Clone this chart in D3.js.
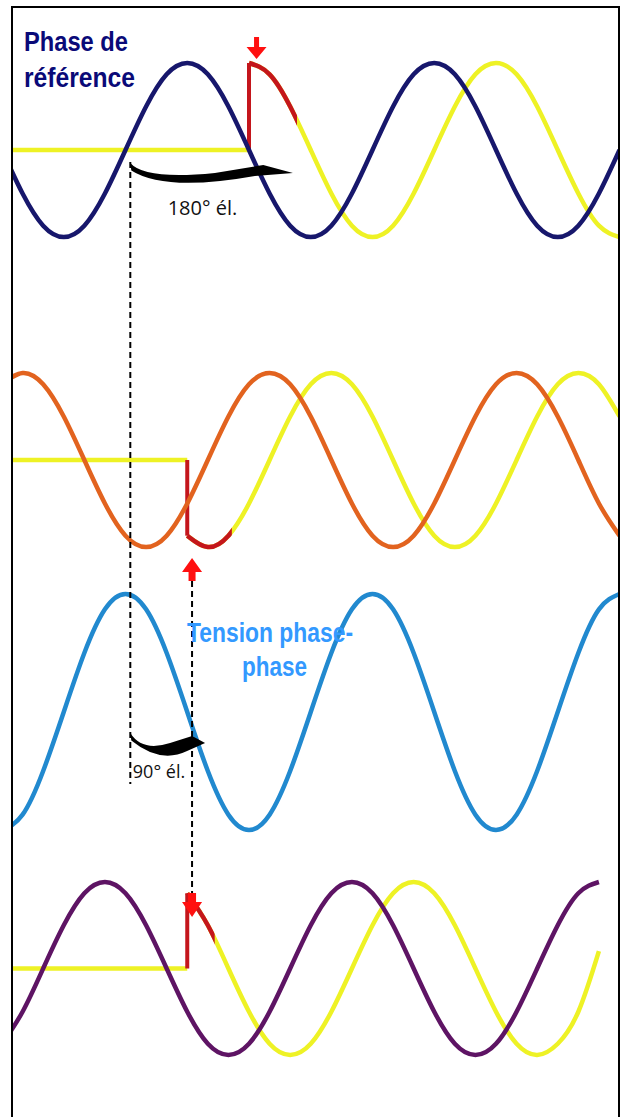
<!DOCTYPE html>
<html>
<head>
<meta charset="utf-8">
<script src="https://cdn.jsdelivr.net/npm/d3@7"></script>
<style>
  html, body { margin: 0; padding: 0; background: #fff; }
  svg { display: block; }
</style>
</head>
<body>
<svg id="chart" width="623" height="1117"></svg>
<script>
// Electrical angle (degrees) of each sample, 30° apart
const angleStep = 30;

// Reference phase voltage, sampled from -180° to 720°
const refPhase = [0,-0.5,-0.87,-1,-0.87,-0.5,0,0.5,0.87,1,0.87,0.5,0,-0.5,-0.87,-1,-0.87,-0.5,0,0.5,0.87,1,0.87,0.5,0,-0.5,-0.87,-1,-0.87,-0.5,0];
// Voltage applied after switching at 180°, sampled from 180° to 720°
const refSwitched = [1,0.87,0.5,0,-0.5,-0.87,-1,-0.87,-0.5,0,0.5,0.87,1,0.87,0.5,0,-0.5,-0.87,-1];

// Second phase, sampled from -180° to 720°
const phase2 = [0.87,1,0.87,0.5,0,-0.5,-0.87,-1,-0.87,-0.5,0,0.5,0.87,1,0.87,0.5,0,-0.5,-0.87,-1,-0.87,-0.5,0,0.5,0.87,1,0.87,0.5,0,-0.5,-0.87];
// Voltage applied after switching at 90°, sampled from 90° to 720°
const phase2Switched = [-0.87,-1,-0.87,-0.5,0,0.5,0.87,1,0.87,0.5,0,-0.5,-0.87,-1,-0.87,-0.5,0,0.5,0.87,1,0.87,0.5];

// Phase-to-phase voltage, sampled from -180° to 720°
const lineVoltage = [-1,-0.87,-0.5,0,0.5,0.87,1,0.87,0.5,0,-0.5,-0.87,-1,-0.87,-0.5,0,0.5,0.87,1,0.87,0.5,0,-0.5,-0.87,-1,-0.87,-0.5,0,0.5,0.87,1];

// Third phase, sampled from -180° to 690°
const phase3 = [-0.87,-0.5,0,0.5,0.87,1,0.87,0.5,0,-0.5,-0.87,-1,-0.87,-0.5,0,0.5,0.87,1,0.87,0.5,0,-0.5,-0.87,-1,-0.87,-0.5,0,0.5,0.87,1];
// Voltage applied after switching at 90°, sampled from 90° to 690°
const phase3Switched = [0.87,0.5,0,-0.5,-0.87,-1,-0.87,-0.5,0,0.5,0.87,1,0.87,0.5,0,-0.5,-0.87,-1,-0.87,-0.5,0.2];

// Switching angles and the end of the transient (red) part
const switchAngles = [180, 90, null, 90];
const transientEnd = [250, 155, null, 130];

// Angles marked by the dashed guides and the phase-shift arrows
const guideAngles = [7, 97];
const shiftArrowTips = [244, 116];
const shiftLabels = ["180° él.", "90° él."];

// ---------------------------------------------------------------
const W = 623, H = 1117;
const svg = d3.select("#chart");

const frame = { left: 12, top: 7, right: 619 };

// angle -> horizontal position
const x = d3.scaleLinear().domain([0, 360]).range([125.5, 372.5]);

const YELLOW = "#eef225";
const RED = "#c4161c";
const ARROW_RED = "#ff1010";

const panels = [
  { center: 150, half: 87, main: refPhase, mainStart: -180, color: "#17176c",
    switched: refSwitched },
  { center: 460, half: 87, main: phase2, mainStart: -180, color: "#e2631f",
    switched: phase2Switched },
  { center: 712, half: 118, main: lineVoltage, mainStart: -180, color: "#2189cf",
    switched: null },
  { center: 968.5, half: 86.5, main: phase3, mainStart: -180, color: "#5e1464",
    switched: phase3Switched }
];

const toPoints = (values, start) => values.map((v, i) => [start + i * angleStep, v]);

const defs = svg.append("defs");
defs.append("clipPath").attr("id", "plotClip")
  .append("rect").attr("x", frame.left + 1).attr("y", 0)
  .attr("width", frame.right - frame.left - 2).attr("height", H);

const plot = svg.append("g").attr("clip-path", "url(#plotClip)");

panels.forEach((p, i) => {
  const y = d3.scaleLinear().domain([-1, 1]).range([p.center + p.half, p.center - p.half]);
  const line = d3.line().x(d => x(d[0])).y(d => y(d[1])).curve(d3.curveNatural);
  const g = plot.append("g");

  const sw = switchAngles[i];
  if (p.switched) {
    const pts = toPoints(p.switched, sw);
    // idle level before switching
    g.append("line")
      .attr("x1", frame.left).attr("x2", x(sw))
      .attr("y1", y(0)).attr("y2", y(0))
      .attr("stroke", YELLOW).attr("stroke-width", 4.5);
    // applied voltage after switching
    g.append("path").datum(pts)
      .attr("d", line).attr("fill", "none")
      .attr("stroke", YELLOW).attr("stroke-width", 4.5);

    // transient part in red
    const cid = "red" + i;
    defs.append("clipPath").attr("id", cid)
      .append("rect").attr("x", x(sw) - 3).attr("y", 0)
      .attr("width", x(transientEnd[i]) - x(sw) + 3).attr("height", H);
    g.append("path").datum(pts)
      .attr("d", line).attr("fill", "none")
      .attr("clip-path", `url(#${cid})`)
      .attr("stroke", RED).attr("stroke-width", 4.5);
    g.append("line")
      .attr("x1", x(sw)).attr("x2", x(sw))
      .attr("y1", y(0)).attr("y2", y(pts[0][1]))
      .attr("stroke", RED).attr("stroke-width", 4);
  }

  g.append("path").datum(toPoints(p.main, p.mainStart))
    .attr("d", line).attr("fill", "none")
    .attr("stroke", p.color).attr("stroke-width", 4.5)
    .attr("stroke-linejoin", "round");
});

// frame
svg.append("path")
  .attr("d", `M${frame.left},${H} V${frame.top} H${frame.right} V${H}`)
  .attr("fill", "none").attr("stroke", "#000").attr("stroke-width", 2);

// dashed guides
const guides = [
  { a: guideAngles[0], y1: 162, y2: 784 },
  { a: guideAngles[1], y1: 581, y2: 894 }
];
svg.selectAll(".guide").data(guides).join("line")
  .attr("class", "guide")
  .attr("x1", d => x(d.a)).attr("x2", d => x(d.a))
  .attr("y1", d => d.y1).attr("y2", d => d.y2)
  .attr("stroke", "#000").attr("stroke-width", 2)
  .attr("stroke-dasharray", "6,4");

// curved phase-shift arrows: a bent band ending in a long arrowhead
function bentArrow(x0, tip, y0, o) {
  const w = tip - x0;
  return `M${x0},${y0}` +
    ` Q${x0 + o.cu * w},${y0 + o.du} ${tip - o.head},${y0 + 10}` +
    ` L${tip - o.head * o.ht},${y0 + o.hy}` +
    ` L${tip},${y0 + 10}` +
    ` L${tip - o.hbx},${y0 + o.hb}` +
    ` Q${x0 + o.cl * w},${y0 + o.dl} ${x0 + 1},${y0 + 7.5} Z`;
}
const bends = [
  { y0: 163, head: 78, ht: 0.38, hy: 2, cu: 0.09, du: 17, cl: 0.215, dl: 29, hbx: 38, hb: 13 },
  { y0: 733, head: 35, ht: 0.37, hy: 3, cu: 0.16, du: 19, cl: 0.4, dl: 31, hbx: 18, hb: 18 }
];
bends.forEach((b, i) => {
  svg.append("path")
    .attr("d", bentArrow(x(guideAngles[0]), x(shiftArrowTips[i]), b.y0, b))
    .attr("fill", "#000");
});

// shift labels
const labelPos = [
  { x: 202.5, y: 215, size: 20 },
  { x: 159, y: 778, size: 18 }
];
labelPos.forEach((l, i) => {
  svg.append("text")
    .attr("x", l.x).attr("y", l.y)
    .attr("text-anchor", "middle")
    .attr("font-family", "'Open Sans', sans-serif")
    .attr("font-size", l.size)
    .attr("fill", "#111")
    .text(shiftLabels[i]);
});

// red switching markers
function blockArrow(cx, tipY, dir, headLen, headW, shaftLen, shaftW) {
  const b = tipY - dir * headLen;
  const s = b - dir * shaftLen;
  return [
    [cx, tipY], [cx - headW / 2, b], [cx - shaftW / 2, b], [cx - shaftW / 2, s],
    [cx + shaftW / 2, s], [cx + shaftW / 2, b], [cx + headW / 2, b]
  ].map(p => p.join(",")).join(" ");
}
const markers = [
  { a: 191, tip: 59, dir: 1, hl: 12, hw: 20, sl: 10, sw: 5 },
  { a: guideAngles[1], tip: 558, dir: -1, hl: 14, hw: 20, sl: 9, sw: 7 },
  { a: guideAngles[1], tip: 917, dir: 1, hl: 15, hw: 20, sl: 9, sw: 8 }
];
markers.forEach(m => {
  svg.append("polygon")
    .attr("points", blockArrow(x(m.a), m.tip, m.dir, m.hl, m.hw, m.sl, m.sw))
    .attr("fill", ARROW_RED);
});

// titles
const titles = [
  { t: "Phase de", x: 24, y: 50.5, len: 104, anchor: "start", color: "#0a0a78" },
  { t: "référence", x: 24, y: 87, len: 111, anchor: "start", color: "#0a0a78" },
  { t: "Tension phase-", x: 270, y: 642, len: 166, anchor: "middle", color: "#3399ff" },
  { t: "phase", x: 274.5, y: 676, len: 65, anchor: "middle", color: "#3399ff" }
];
titles.forEach(d => {
  svg.append("text")
    .attr("x", d.x).attr("y", d.y)
    .attr("text-anchor", d.anchor)
    .attr("font-family", "'Liberation Sans', Arial, sans-serif")
    .attr("font-weight", "bold")
    .attr("font-size", 27)
    .attr("textLength", d.len)
    .attr("lengthAdjust", "spacingAndGlyphs")
    .attr("fill", d.color)
    .text(d.t);
});
</script>
</body>
</html>
